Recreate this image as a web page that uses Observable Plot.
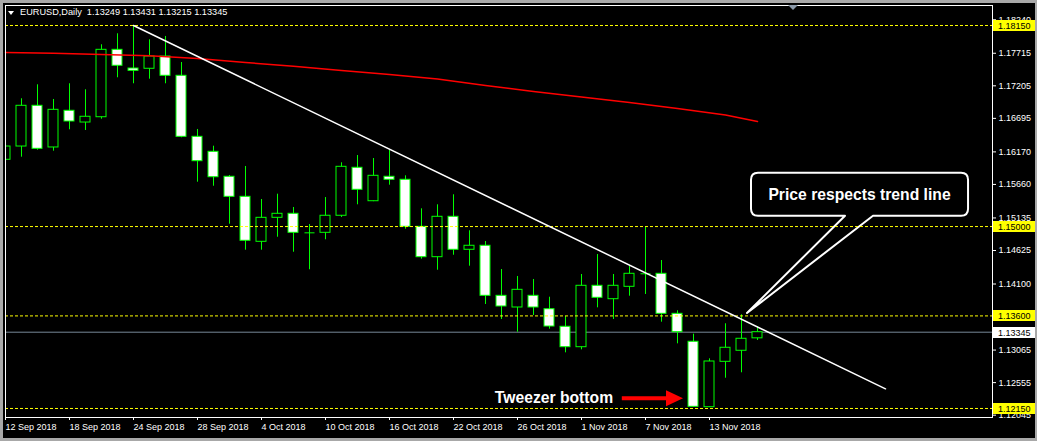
<!DOCTYPE html>
<html><head><meta charset="utf-8">
<script src="https://cdn.jsdelivr.net/npm/d3@7"></script>
<script src="https://cdn.jsdelivr.net/npm/@observablehq/plot@0.6"></script>
<style>
html,body{margin:0;padding:0;background:#000;}
#wrap{position:relative;width:1037px;height:441px;overflow:hidden;background:#000;}
#wrap svg{position:absolute;left:0;top:0;}
#border{position:absolute;left:0;top:0;width:1037px;height:441px;box-sizing:border-box;border:solid #a8a8a8;border-width:3px 2px 3px 3px;pointer-events:none;}
#hdr{position:absolute;left:20px;top:7px;color:#fff;font:9.2px "Liberation Sans",Arial,sans-serif;white-space:pre;}
#tri{position:absolute;left:8px;top:11px;width:0;height:0;border-left:3.5px solid transparent;border-right:3.5px solid transparent;border-top:4px solid #fff;}
#shift{position:absolute;left:788px;top:5px;width:0;height:0;border-left:5px solid transparent;border-right:5px solid transparent;border-top:5px solid #8a98a8;}
</style></head>
<body>
<div id="wrap"></div>
<script>
// ---- data ----
const dates = ["12 Sep 2018","13 Sep 2018","14 Sep 2018","17 Sep 2018","18 Sep 2018","19 Sep 2018","20 Sep 2018","21 Sep 2018","24 Sep 2018","25 Sep 2018","26 Sep 2018","27 Sep 2018","28 Sep 2018","1 Oct 2018","2 Oct 2018","3 Oct 2018","4 Oct 2018","5 Oct 2018","8 Oct 2018","9 Oct 2018","10 Oct 2018","11 Oct 2018","12 Oct 2018","15 Oct 2018","16 Oct 2018","17 Oct 2018","18 Oct 2018","19 Oct 2018","22 Oct 2018","23 Oct 2018","24 Oct 2018","25 Oct 2018","26 Oct 2018","29 Oct 2018","30 Oct 2018","31 Oct 2018","1 Nov 2018","2 Nov 2018","5 Nov 2018","6 Nov 2018","7 Nov 2018","8 Nov 2018","9 Nov 2018","12 Nov 2018","13 Nov 2018","14 Nov 2018","15 Nov 2018","16 Nov 2018"];
const open  = [1.16046,1.16254,1.16892,1.16239,1.16814,1.16630,1.16713,1.17769,1.17476,1.17472,1.17664,1.17362,1.16406,1.16171,1.15780,1.15466,1.14761,1.15137,1.15200,1.14902,1.14902,1.15169,1.15921,1.15397,1.15780,1.15733,1.14996,1.14520,1.15153,1.14636,1.14699,1.13915,1.13732,1.13915,1.13705,1.13430,1.13110,1.14072,1.13862,1.14056,1.14260,1.14260,1.13633,1.13195,1.12170,1.12881,1.13054,1.13249];
const high  = [1.16505,1.17002,1.17221,1.16991,1.17237,1.17143,1.17848,1.18020,1.18150,1.17926,1.17978,1.17570,1.16521,1.16259,1.15800,1.15941,1.15424,1.15507,1.15299,1.15032,1.15455,1.15999,1.16113,1.16066,1.16192,1.15795,1.15278,1.15341,1.15498,1.14934,1.14766,1.14327,1.14218,1.14171,1.13893,1.13591,1.14249,1.14562,1.14249,1.14374,1.14996,1.14468,1.13680,1.13314,1.12928,1.13477,1.13618,1.13431];
const low   = [1.15695,1.16087,1.16196,1.16181,1.16516,1.16505,1.16682,1.17331,1.17237,1.17309,1.17237,1.16391,1.15695,1.15632,1.15037,1.14630,1.14630,1.14833,1.14598,1.14323,1.14793,1.15142,1.15341,1.15390,1.15648,1.14959,1.14489,1.14316,1.14551,1.14379,1.13779,1.13544,1.13345,1.13607,1.13392,1.13022,1.13069,1.13727,1.13544,1.13909,1.13936,1.13502,1.13163,1.12165,1.12165,1.12624,1.12709,1.13215];
const close = [1.16254,1.16892,1.16218,1.16829,1.16646,1.16720,1.17769,1.17519,1.17440,1.17664,1.17362,1.16406,1.16024,1.15773,1.15466,1.14777,1.15137,1.15200,1.14902,1.14902,1.15169,1.15936,1.15576,1.15795,1.15733,1.14996,1.14520,1.15153,1.14636,1.14699,1.13915,1.13748,1.14009,1.13732,1.13434,1.13110,1.14072,1.13884,1.14072,1.14260,1.14260,1.13633,1.13345,1.12176,1.12886,1.13101,1.13242,1.13345];

const maBar   = [0,3,6,9,12,15,18,21,24,27,30,33,36,39,42,45,47];
const maValue = [1.17727,1.17716,1.17696,1.17675,1.17633,1.17570,1.17512,1.17445,1.17382,1.17312,1.17210,1.17116,1.17030,1.16944,1.16850,1.16748,1.16646];

const trendBar   = [8, 55];
const trendValue = [1.18150, 1.12458];

const levels = [1.18150, 1.15000, 1.13600, 1.12150];
const bidPrice = [1.13345];

const yTicks = [1.18240,1.17715,1.17205,1.16695,1.16170,1.15660,1.15135,1.14625,1.14100,1.13065,1.12555,1.12045];
const xTickBars = [0,4,8,12,16,20,24,28,32,36,40,44];

const headerSymbol = "EURUSD,Daily";
const headerOHLC = "1.13249 1.13431 1.13215 1.13345";

const calloutText = "Price respects trend line";
const calloutBox = {x1: 46.625, x2: 60.19, y1: 1.15836, y2: 1.15162};
const calloutTip = {x: 46.375, y: 1.13638};
const calloutBase = [52.5, 54.25];
const tweezerLabel = [{text: "Tweezer bottom", x: 34.28, y: 1.12314}];
const arrowSpec = {x1: 38.55, x2: 42.375, y: 1.12302};

// ---- build ----
const bars = dates.map((d, i) => ({i, date: d, open: open[i], high: high[i], low: low[i], close: close[i]}));
const bodies = bars.filter(d => Math.abs(d.open - d.close) > 1e-6);
const dojis = bars.filter(d => Math.abs(d.open - d.close) <= 1e-6);
const ma = maBar.map((b, k) => ({x: b, y: maValue[k]}));
const trend = trendBar.map((b, k) => ({x: b, y: trendValue[k]}));
const HW = 0.3125; // half body width in bar units

function priceTags(index, scales, values, dims) {
  const g = d3.create("svg:g").attr("text-anchor", "start");
  const x0 = dims.width - dims.marginRight + 1;
  const tags = levels.map(p => ({p, bg: "#ffff00"})).concat(bidPrice.map(p => ({p, bg: "#ffffff"})));
  for (const t of tags) {
    const yy = Math.round(scales.y(t.p));
    g.append("rect").attr("x", x0).attr("y", yy - 5).attr("width", dims.marginRight).attr("height", 11).attr("fill", t.bg);
    g.append("text").attr("x", x0 + 5).attr("y", yy + 0.5).attr("dy", "0.35em").attr("fill", "#000")
      .attr("text-anchor", "start").attr("font-size", 9).text(t.p.toFixed(5));
  }
  return g.node();
}

function calloutMark(index, {x, y}) {
  const L = x(calloutBox.x1), R = x(calloutBox.x2), T = y(calloutBox.y1), B = y(calloutBox.y2);
  const r = 7, bx1 = x(calloutBase[0]), bx2 = x(calloutBase[1]), tx = x(calloutTip.x), ty = y(calloutTip.y);
  const g = d3.create("svg:g");
  const path = `M${bx2},${B} H${R - r} Q${R},${B} ${R},${B - r} V${T + r} Q${R},${T} ${R - r},${T} H${L + r} Q${L},${T} ${L},${T + r} V${B - r} Q${L},${B} ${L + r},${B} H${bx1} L${tx},${ty} Z`;
  g.append("path").attr("d", path).attr("fill", "#000").attr("stroke", "#fff").attr("stroke-width", 2).attr("stroke-linejoin", "round");
  g.append("text").attr("x", (L + R) / 2).attr("y", (T + B) / 2).attr("dy", "0.36em").attr("text-anchor", "middle")
    .attr("fill", "#fff").attr("font-weight", "bold").attr("font-size", 15.7).text(calloutText);
  return g.node();
}

function arrowMark(index, {x, y}) {
  const x1 = x(arrowSpec.x1), x2 = x(arrowSpec.x2), yy = y(arrowSpec.y);
  const head = 17, hw = 8, sw = 2;
  const path = `M${x1},${yy - sw} H${x2 - head} V${yy - hw} L${x2},${yy} L${x2 - head},${yy + hw} V${yy + sw} H${x1} Z`;
  return d3.create("svg:path").attr("d", path).attr("fill", "#ff0000").node();
}

const chart = Plot.plot({
  width: 1037,
  height: 441,
  marginLeft: 5,
  marginRight: 45,
  marginTop: 5,
  marginBottom: 24,
  style: {background: "#000", color: "#fff", fontFamily: "'Liberation Sans', Arial, sans-serif", fontSize: "9px", overflow: "visible"},
  x: {type: "linear", domain: [0, 61.6875], axis: null},
  y: {domain: [1.120086, 1.184633], axis: null},
  marks: [
    Plot.ruleY(bidPrice, {y: d => d, stroke: "#778899"}),
    calloutMark,
    Plot.ruleX(bars, {x: "i", y1: "low", y2: "high", stroke: "#00ff00", clip: true}),
    Plot.rect(bodies, {x1: d => d.i - HW, x2: d => d.i + HW, y1: "open", y2: "close",
      fill: d => d.close < d.open ? "#ffffff" : "#000000", stroke: "#00ff00", clip: true}),
    Plot.link(dojis, {x1: d => d.i - HW, x2: d => d.i + HW, y1: "open", y2: "close", stroke: "#00ff00"}),
    Plot.ruleY(levels, {y: d => d, stroke: "#ffff00", strokeDasharray: "3,2"}),
    Plot.line(ma, {x: "x", y: "y", stroke: "#ff0000"}),
    Plot.line(trend, {x: "x", y: "y", stroke: "#ffffff", clip: true}),
    Plot.text(tweezerLabel, {x: "x", y: "y", text: "text", fill: "#fff", fontSize: 15.7, fontWeight: "bold"}),
    arrowMark,
    Plot.frame({stroke: "#ffffff"}),
    Plot.axisY(yTicks, {anchor: "right", tickSize: 3, tickPadding: 3, tickFormat: d => d.toFixed(5), label: null, fontSize: 9}),
    Plot.axisX(xTickBars, {anchor: "bottom", tickSize: 3, tickPadding: 3, tickFormat: i => dates[i], textAnchor: "start", label: null, fontSize: 9}),
    priceTags
  ]
});

const wrap = document.getElementById("wrap");
wrap.appendChild(chart);
const hdr = document.createElement("div");
hdr.id = "hdr";
hdr.textContent = headerSymbol + "  " + headerOHLC;
wrap.appendChild(hdr);
for (const id of ["tri", "shift", "border"]) {
  const el = document.createElement("div");
  el.id = id;
  wrap.appendChild(el);
}
</script>
</body></html>
